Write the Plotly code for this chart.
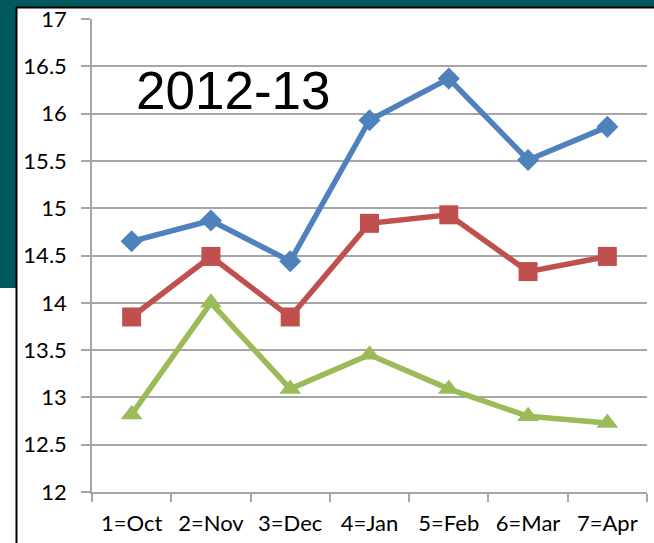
import plotly.graph_objects as go

# ------------------------------------------------------------
# Data
# ------------------------------------------------------------
months = ["1=Oct", "2=Nov", "3=Dec", "4=Jan", "5=Feb", "6=Mar", "7=Apr"]
series_blue = [14.65, 14.87, 14.44, 15.93, 16.37, 15.51, 15.86]
series_red = [13.85, 14.49, 13.85, 14.84, 14.93, 14.33, 14.49]
series_green = [12.82, 14.00, 13.09, 13.45, 13.09, 12.80, 12.73]
y_ticks = [12, 12.5, 13, 13.5, 14, 14.5, 15, 15.5, 16, 16.5, 17]

W, H = 654, 543
L, R, T, B = 92, 7, 19, 51
PW, PH = W - L - R, H - T - B

def px_x(p):  # pixel -> paper x
    return (p - L) / PW

def px_y(p):  # pixel -> paper y
    return (H - B - p) / PH

fig = go.Figure()

styles = [
    (series_blue, "#4F81BD", "diamond", 17),
    (series_red, "#C0504D", "square", 19),
    (series_green, "#9BBB59", "triangle-up", 19),
]
for vals, col, sym, size in styles:
    fig.add_trace(go.Scatter(
        x=months, y=vals, mode="lines+markers",
        line=dict(color=col, width=5.5),
        marker=dict(symbol=sym, size=size, color=col),
        showlegend=False, cliponaxis=False,
    ))

# slide background pieces (teal band + border)
teal = "#02585C"
fig.add_shape(type="rect", xref="paper", yref="paper",
              x0=px_x(-5), x1=px_x(W + 5), y0=px_y(7), y1=px_y(-10),
              fillcolor=teal, line_width=0, layer="above")
fig.add_shape(type="rect", xref="paper", yref="paper",
              x0=px_x(-5), x1=px_x(16), y0=px_y(288), y1=px_y(-10),
              fillcolor=teal, line_width=0, layer="above")
fig.add_shape(type="line", xref="paper", yref="paper",
              x0=px_x(16), x1=px_x(W + 5), y0=px_y(7.5), y1=px_y(7.5),
              line=dict(color="black", width=2), layer="above")
fig.add_shape(type="line", xref="paper", yref="paper",
              x0=px_x(16.5), x1=px_x(16.5), y0=px_y(H + 5), y1=px_y(7),
              line=dict(color="black", width=2), layer="above")

fig.add_annotation(text="2012-13", xref="paper", yref="paper",
                   x=px_x(134), y=px_y(90), xanchor="left", yanchor="middle",
                   showarrow=False,
                   font=dict(family="Liberation Sans, Arial", size=53, color="black"))

fig.update_layout(
    width=W, height=H,
    margin=dict(l=L, r=R, t=T, b=B),
    paper_bgcolor="white", plot_bgcolor="white",
    font=dict(family="Lato, Calibri, sans-serif", size=22, color="black"),
    xaxis=dict(
        type="category", showgrid=False, showline=True, automargin=False,
        linecolor="#A6A6A6", linewidth=1.5,
        ticks="outside", tickson="boundaries", ticklen=8,
        tickcolor="#A6A6A6", tickwidth=1.5,
        ticklabelstandoff=11,
        range=[-0.5, 6.5], fixedrange=True,
    ),
    yaxis=dict(
        range=[12, 17], tickvals=y_ticks, automargin=False,
        showgrid=True, gridcolor="#A6A6A6", gridwidth=1.5,
        showline=True, linecolor="#A6A6A6", linewidth=1.5,
        ticks="outside", ticklen=9, tickcolor="#A6A6A6", tickwidth=1.5,
        ticklabelstandoff=10, zeroline=False, fixedrange=True,
    ),
)

# page has a default body margin; remove it so the figure sits at the corner
fig.write_html("out.html", config={"displayModeBar": False},
               post_script="document.body.style.margin='0';document.body.style.overflow='hidden';")
